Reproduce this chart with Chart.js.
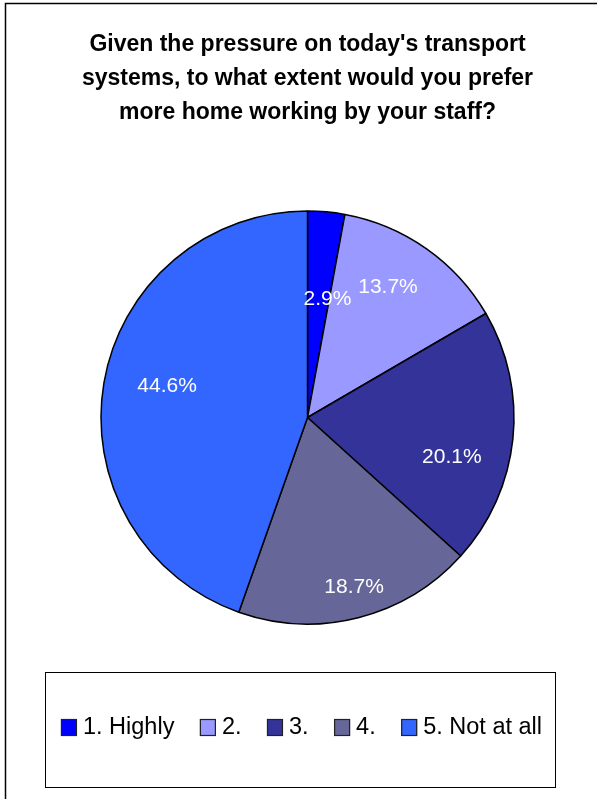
<!DOCTYPE html>
<html>
<head>
<meta charset="utf-8">
<script src="https://cdn.jsdelivr.net/npm/chart.js@4/dist/chart.umd.min.js"></script>
<style>
  html, body { margin: 0; padding: 0; background: #fff; }
  #wrap { width: 597px; height: 799px; position: relative; }
</style>
</head>
<body>
<div id="wrap"><canvas id="c"></canvas></div>
<script>
// Survey answers and their share of respondents (%)
const categories = ['1. Highly', '2.', '3.', '4.', '5. Not at all'];
const shares = [2.9, 13.7, 20.1, 18.7, 44.6];
const titleLines = [
  "Given the pressure on today's transport",
  'systems, to what extent would you prefer',
  'more home working by your staff?'
];

const sliceColors = ['#0000FF', '#9999FF', '#333399', '#666699', '#3366FF'];
const FONT = '"Liberation Sans", Arial, sans-serif';

// Where each percentage sits inside its slice: fraction of the radius,
// and a small turn (degrees) away from the slice's middle angle.
const labelRadius = [0.58, 0.742, 0.725, 0.853, 0.697];
const labelTurn = [4.4, -3.4, 9.4, -1.1, 2.9];

// Frame around the whole chart and boxed legend underneath the pie
const framePlugin = {
  id: 'frame',
  beforeDraw(chart) {
    const ctx = chart.ctx;
    ctx.save();
    ctx.strokeStyle = '#000';
    ctx.lineWidth = 1.5;
    ctx.strokeRect(5.5, 3.5, 800, 900);
    ctx.restore();
  }
};

const sliceLabels = {
  id: 'sliceLabels',
  afterDatasetsDraw(chart) {
    const ctx = chart.ctx;
    const meta = chart.getDatasetMeta(0);
    const values = chart.data.datasets[0].data;
    ctx.save();
    ctx.font = '21px ' + FONT;
    ctx.fillStyle = '#fff';
    ctx.textAlign = 'center';
    ctx.textBaseline = 'middle';
    meta.data.forEach((arc, i) => {
      const p = arc.getProps(['x', 'y', 'startAngle', 'endAngle', 'outerRadius'], true);
      const a = (p.startAngle + p.endAngle) / 2 + labelTurn[i] * Math.PI / 180;
      const r = p.outerRadius * labelRadius[i];
      ctx.fillText(values[i].toFixed(1) + '%', p.x + Math.cos(a) * r, p.y + Math.sin(a) * r);
    });
    ctx.restore();
  }
};

const boxedLegend = {
  id: 'boxedLegend',
  afterDraw(chart) {
    const ctx = chart.ctx;
    const box = { x: 45.5, y: 672.5, w: 510, h: 115 };
    ctx.save();
    ctx.strokeStyle = '#000';
    ctx.lineWidth = 1;
    ctx.strokeRect(box.x, box.y, box.w, box.h);

    const labels = chart.data.labels;
    const colors = chart.data.datasets[0].backgroundColor;
    ctx.font = '23.5px ' + FONT;
    const sw = 16, sh = 17, gapText = 6, gapItem = 25.5;
    const widths = labels.map(t => ctx.measureText(t).width);
    let total = 0;
    widths.forEach((w, i) => { total += sw + gapText + w + (i ? gapItem : 0); });
    let x = 301.5 - total / 2;
    const cy = 727.5;
    ctx.textBaseline = 'alphabetic';
    ctx.textAlign = 'left';
    labels.forEach((t, i) => {
      ctx.fillStyle = colors[i];
      ctx.fillRect(x, cy - sh / 2, sw, sh);
      ctx.strokeStyle = '#222';
      ctx.lineWidth = 1.2;
      ctx.strokeRect(x + 0.5, cy - sh / 2 + 0.5, sw - 1, sh - 1);
      ctx.fillStyle = '#000';
      ctx.fillText(t, x + sw + gapText, 734);
      x += sw + gapText + widths[i] + gapItem;
    });
    ctx.restore();
  }
};

new Chart(document.getElementById('c'), {
  type: 'pie',
  data: {
    labels: categories,
    datasets: [{
      data: shares,
      backgroundColor: sliceColors,
      borderColor: '#000',
      borderWidth: 1.5
    }]
  },
  options: {
    responsive: true,
    maintainAspectRatio: false,
    animation: false,
    radius: 206.5,
    layout: { padding: { left: 24, right: 6, top: 0, bottom: 94 } },
    plugins: {
      legend: { display: false },
      tooltip: { enabled: false },
      title: {
        display: true,
        text: titleLines,
        color: '#000',
        font: { family: FONT, size: 23, weight: 'bold', lineHeight: 34 / 23 },
        padding: { top: 28, bottom: 0 }
      }
    }
  },
  plugins: [framePlugin, sliceLabels, boxedLegend]
});
</script>
</body>
</html>
